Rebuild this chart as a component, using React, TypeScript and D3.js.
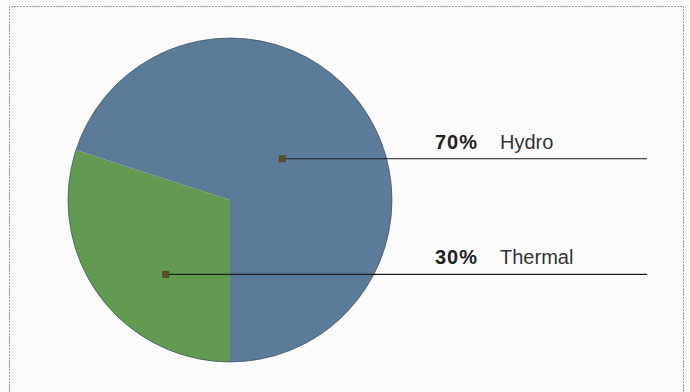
import React, { useEffect, useRef } from 'react';
import * as d3 from 'd3';

// Share of generation by source
const sources = ['Thermal', 'Hydro'];
const shares = [30, 70];
const sourceColors = ['#619a50', '#5c7b99'];

// marker placement inside each slice: fraction along the slice angle, distance from centre
const markerAngleFrac = [0.38, 0.49];
const markerDist = [98, 67];

const W = 690;
const H = 392;

export default function App() {
  const svgRef = useRef<SVGSVGElement>(null);

  useEffect(() => {
    if (!svgRef.current) return;
    const svg = d3.select(svgRef.current);
    svg.selectAll('*').remove();

    const cx = 230;
    const cy = 200;
    const radius = 162;

    // frame
    svg.append('rect')
      .attr('x', 0).attr('y', 0).attr('width', W).attr('height', H)
      .attr('fill', '#fbfbfb');
    svg.append('path')
      .attr('d', `M9.5,${H} V6.5 H683.5 V${H}`)
      .attr('fill', 'none')
      .attr('stroke', '#9a9a9a')
      .attr('stroke-width', 1)
      .attr('stroke-dasharray', '2,1');

    const data = sources.map((name, i) => ({ name, value: shares[i], i }));

    const pie = d3.pie<typeof data[number]>()
      .value(d => d.value)
      .sort(null)
      .startAngle(Math.PI)
      .endAngle(Math.PI * 3);

    const arcs = pie(data);
    const arc = d3.arc<d3.PieArcDatum<typeof data[number]>>()
      .innerRadius(0)
      .outerRadius(radius);

    const g = svg.append('g').attr('transform', `translate(${cx},${cy})`);

    g.selectAll('path.slice')
      .data(arcs)
      .enter()
      .append('path')
      .attr('class', 'slice')
      .attr('d', arc)
      .attr('fill', d => sourceColors[d.data.i]);

    g.append('circle')
      .attr('r', radius)
      .attr('fill', 'none')
      .attr('stroke', '#2c3e52')
      .attr('stroke-opacity', 0.6)
      .attr('stroke-width', 1);

    const lineEnd = 647 - cx;
    const labelX = 435 - cx;

    arcs.forEach(a => {
      const i = a.data.i;
      const ang = a.startAngle + markerAngleFrac[i] * (a.endAngle - a.startAngle);
      const [mx, my] = d3.pointRadial(ang, markerDist[i]);

      g.append('line')
        .attr('x1', mx).attr('x2', lineEnd)
        .attr('y1', my + 0.5).attr('y2', my + 0.5)
        .attr('stroke', '#1e1e1e')
        .attr('stroke-width', 1.1);

      g.append('rect')
        .attr('x', mx - 3.5).attr('y', my - 3)
        .attr('width', 7).attr('height', 7)
        .attr('fill', '#5a4a2e');

      const t = g.append('text')
        .attr('x', labelX)
        .attr('y', my - 9.5)
        .attr('font-family', 'Liberation Sans, Arial, sans-serif')
        .attr('font-size', 20)
        .attr('fill', '#222');
      t.append('tspan')
        .attr('font-weight', 'bold')
        .attr('letter-spacing', 1)
        .text(`${a.data.value}%`);
      t.append('tspan')
        .attr('dx', 22)
        .attr('fill', '#333')
        .text(a.data.name);
    });
  }, []);

  return (
    <svg
      ref={svgRef}
      width={W}
      height={H}
      style={{ position: 'absolute', left: 0, top: 0, display: 'block' }}
    />
  );
}
